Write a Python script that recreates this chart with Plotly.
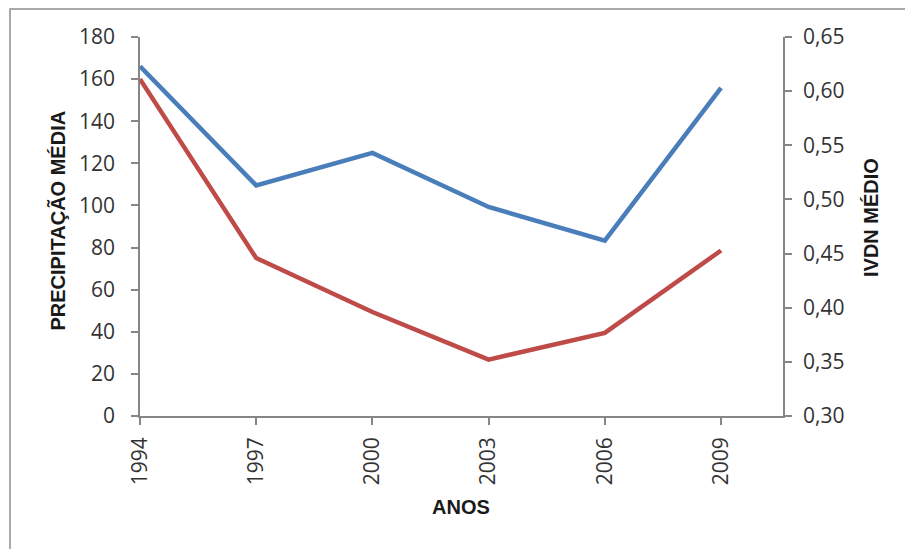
import plotly.graph_objects as go

anos = [1994, 1997, 2000, 2003, 2006, 2009]
precipitacao_media = [160, 75, 49.4, 26.8, 39.5, 78.6]
ivdn_medio = [0.623, 0.513, 0.543, 0.493, 0.462, 0.603]

left_ticks = [0, 20, 40, 60, 80, 100, 120, 140, 160, 180]
right_ticks = [0.30, 0.35, 0.40, 0.45, 0.50, 0.55, 0.60, 0.65]
right_ticktext = ["0,30", "0,35", "0,40", "0,45", "0,50", "0,55", "0,60", "0,65"]

W, H = 905, 549
L, R, T, B = 140, 122, 37, 133
pw, ph = W - L - R, H - T - B

def px(x):
    return (x - L) / pw

def py(y):
    return (H - B - y) / ph

tick_font = dict(family="Open Sans, DejaVu Sans, sans-serif", size=21, color="#333333")
title_font = dict(family="Liberation Sans Narrow, Arial Narrow, Liberation Sans, sans-serif",
                  size=20, color="#1a1a1a")
axis_col = "#868686"

fig = go.Figure()
fig.add_trace(go.Scatter(x=anos, y=ivdn_medio, mode="lines", yaxis="y2",
                         line=dict(color="#4A7EBB", width=4.5), name="IVDN MÉDIO"))
fig.add_trace(go.Scatter(x=anos, y=precipitacao_media, mode="lines", yaxis="y",
                         line=dict(color="#BE4B48", width=4.5), name="PRECIPITAÇÃO MÉDIA"))

fig.update_layout(
    width=W, height=H,
    margin=dict(l=L, r=R, t=T, b=B),
    paper_bgcolor="white", plot_bgcolor="white",
    showlegend=False,
    xaxis=dict(range=[1994, 2010.6], tickvals=anos, ticktext=[str(a) for a in anos],
               tickangle=-90, tickfont=tick_font, showgrid=False, zeroline=False,
               showline=True, linecolor=axis_col, linewidth=1.5,
               ticks="outside", ticklen=7, tickcolor=axis_col, tickwidth=1.5,
               ticklabelstandoff=4),
    yaxis=dict(range=[0, 180], tickvals=left_ticks, tickfont=tick_font,
               showgrid=False, zeroline=False, showline=True, linecolor=axis_col,
               linewidth=1.5, ticks="outside", ticklen=7, tickcolor=axis_col,
               tickwidth=1.5, ticklabelstandoff=12),
    yaxis2=dict(range=[0.30, 0.65], tickvals=right_ticks, ticktext=right_ticktext,
                tickfont=tick_font, overlaying="y", side="right", showgrid=False,
                zeroline=False, showline=True, linecolor=axis_col, linewidth=1.5,
                ticks="outside", ticklen=7, tickcolor=axis_col, tickwidth=1.5,
                ticklabelstandoff=7),
    annotations=[
        dict(text="<b>PRECIPITAÇÃO MÉDIA</b>", x=px(57.5), y=py(221), xref="paper", yref="paper",
             textangle=-90, showarrow=False, font=title_font, xanchor="center", yanchor="middle"),
        dict(text="<b>IVDN MÉDIO</b>", x=px(871), y=py(218), xref="paper", yref="paper",
             textangle=-90, showarrow=False, font=title_font, xanchor="center", yanchor="middle"),
        dict(text="<b>ANOS</b>", x=px(461), y=py(507), xref="paper", yref="paper",
             showarrow=False, font=title_font, xanchor="center", yanchor="middle"),
    ],
    shapes=[
        dict(type="rect", xref="paper", yref="paper",
             x0=px(10), x1=px(925), y0=py(570), y1=py(9),
             line=dict(color="#8f8f8f", width=1.5), fillcolor="rgba(0,0,0,0)", layer="below"),
    ],
)

fig.write_html("out.html")
